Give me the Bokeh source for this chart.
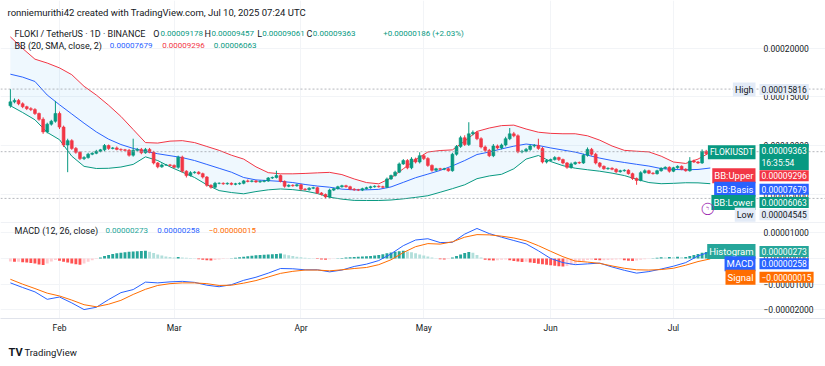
import numpy as np
import pandas as pd
from bokeh.plotting import figure
from bokeh.layouts import column
from bokeh.models import (Range1d, FixedTicker, Label, Span, Grid, ColumnDataSource,
                          DatetimeTickFormatter)
from bokeh.core.properties import value
from bokeh.embed import file_html
from bokeh.resources import INLINE

# ---------------- data (prices in millionths of USDT) ----------------
SCALE = 1e-6
START_DATE = "2025-01-20"
FIRST_OPEN = 141.0
LAST_OPEN = 91.78

CLOSE = [
    145, 146.5, 143, 140, 138, 137, 133, 127, 114, 122,
    125, 133, 119, 100.5, 105, 97, 93, 86.5, 87.5, 91,
    92, 94, 95.5, 100, 97, 97.5, 96, 95.5, 95, 90,
    95, 96, 92.5, 96, 93, 82, 78, 80, 80, 79.5,
    77.5, 88, 73.5, 69, 72, 72.5, 71, 67.5, 59, 57,
    61, 61, 60.5, 61, 60, 60.5, 61, 63.5, 63, 63.5,
    62.5, 63, 63.5, 66.5, 67, 69, 63, 58, 59, 58.5,
    59.5, 55, 54.5, 56, 56.5, 51, 49.5, 47, 54, 55.5,
    57.5, 58.5, 57.5, 55, 54.3, 54, 55.5, 56.5, 57.5, 58,
    57.5, 57, 65.5, 69, 72.5, 81, 84.5, 77, 86, 83,
    89.5, 86.5, 79.5, 74.5, 76, 75.5, 76, 74, 91, 99,
    108, 101, 112, 113.5, 107, 98.5, 95, 89.5, 99.5, 97.5,
    100.5, 107, 112, 110, 93.5, 94, 96, 99.5, 100, 97,
    83, 84.5, 85.5, 87.5, 85.5, 82, 77.5, 81, 82.5, 82,
    90, 96, 91, 82, 78.5, 76, 76.5, 75.5, 73, 74,
    74.5, 71, 66, 64, 72, 74, 71.5, 71, 74, 76.5,
    77.5, 73.5, 77, 78.5, 75.5, 74, 84, 83, 82, 94,
    91.77, 93.63,
]
UP_WICK = [
    13.16, 2, 1.5, 1.5, 1, 1.5, 1.5, 1, 2, 1.5,
    1.5, 13, 2, 1.5, 2, 1.5, 1.5, 1, 1.5, 1.5,
    1, 1.5, 1, 1.5, 1, 1, 1.5, 1, 1, 1.5,
    12, 1.5, 1.5, 1.5, 1.5, 1.5, 1, 1.5, 1, 1,
    1, 1.5, 1.5, 1, 1.5, 1, 1, 1, 1, 1,
    1.5, 1, 1, 1, 1, 1, 1, 1, 1.5, 1,
    1, 1, 1, 1, 1, 5, 1, 1, 1, 1,
    1, 1, 1, 1, 1, 1, 1, 1, 1.5, 1,
    1, 1, 1, 1, 1, 1, 1, 1, 1, 1,
    1, 1, 1.5, 1, 1.5, 1.5, 1.5, 1.5, 2, 1.5,
    3.5, 1.5, 1.5, 1, 1, 1, 1, 1, 1.5, 1.5,
    2, 2.5, 12, 2, 1.5, 1.5, 1.5, 1.5, 2, 1.5,
    1.5, 2, 6, 2, 1.5, 1.5, 1.5, 1.5, 1.5, 7,
    1.5, 1.5, 1, 1.5, 1, 1, 1, 1.5, 1, 1,
    1.5, 2, 1.5, 1.5, 1, 1, 1, 1, 1, 1,
    1, 1, 1, 1, 1.5, 1.5, 1, 1, 1, 1,
    1, 1, 1, 1, 1, 1, 4, 1.5, 1, 2,
    1.5, 0.94,
]
DOWN_WICK = [
    2, 1.5, 1.5, 1.5, 1.5, 1.5, 1.5, 1.5, 2, 1.5,
    1.5, 1.5, 2, 2, 28, 1.5, 1.5, 1.5, 1.5, 1,
    1, 1, 1, 1.5, 1.5, 1, 1, 1, 1, 1.5,
    1.5, 1, 1.5, 1, 1, 1.5, 1.5, 1, 1, 1,
    1, 1.5, 1.5, 2, 1, 1, 1, 1.5, 1.5, 1.5,
    1, 1, 1, 1, 1, 1, 1, 1, 1, 1,
    1, 1, 1, 1, 1, 1, 1, 1.5, 1, 1,
    1, 1.5, 1, 1, 1, 1, 1, 1.55, 1, 1,
    1, 1, 1, 1, 1, 1, 1, 1, 1, 1,
    1, 1, 1, 1, 1, 1, 1, 1.5, 1.5, 1.5,
    1.5, 1.5, 1.5, 1.5, 1, 1, 1, 1, 1, 1.5,
    1.5, 1.5, 1.5, 1.5, 1.5, 1.5, 1.5, 1.5, 1.5, 1.5,
    1.5, 1.5, 1.5, 1.5, 1.5, 1.5, 1, 1.5, 1.5, 1.5,
    1.5, 1.5, 1, 1, 1.5, 1.5, 1.5, 1.5, 1, 1,
    1, 1.5, 1.5, 1.5, 1.5, 1, 1, 1, 1.5, 1,
    1, 1, 1.5, 4.5, 1, 1, 1, 1, 1, 1,
    1, 1.5, 1, 1, 1, 1, 1, 1, 1, 1,
    1.5, 1.17,
]
# Bollinger Bands (20, 2) read every third day
BB_UPPER = [212, 200, 189, 185, 180, 173, 161, 152, 141.5, 130, 116.5, 103, 102.5, 104.5, 105,
            103, 99, 95, 90, 86, 78, 72, 70.8, 70.8, 71.2, 71.8, 72.3, 70, 65.5, 61.8, 60.5,
            66.5, 76, 85.5, 93.3, 94.8, 95.5, 104.5, 114.5, 118, 120.5, 121, 117, 113.7, 112.5,
            112.1, 112.1, 110, 105.5, 99.5, 95, 94.1, 93.4, 89, 83, 81.5, 86, 92.96]
BB_BASIS = [173.5, 170.5, 166, 152, 142, 132.5, 123, 114, 106.5, 101, 97, 94, 91.5, 89.5, 87.5,
            84.5, 80.5, 76.5, 72.5, 67, 64.5, 63.8, 63, 61.8, 59.8, 58.2, 57, 55, 54.3, 54.3,
            54.8, 57.3, 62, 66.8, 70.5, 74.3, 79, 84.5, 90.7, 93.3, 96.5, 99.3, 101.5, 100, 97.5,
            95.3, 93.2, 90, 87, 84.5, 82.5, 80.6, 78.8, 76.2, 75.3, 75, 75.3, 76.79]
BB_LOWER = [141, 134, 126.5, 113.5, 106, 89, 78.5, 76.3, 76.5, 77.8, 80.5, 88.3, 84.5, 78, 72.5,
            67, 59.5, 53.5, 51.5, 50.2, 52.5, 54.3, 55.2, 54.5, 53, 50.5, 46.7, 44.7, 43.4, 43.3,
            43.3, 43.8, 45, 46.5, 48.2, 51.8, 55.5, 59.5, 65.8, 68.6, 70.3, 76, 86, 89.7, 83.5,
            79.2, 76.6, 75, 73.5, 71.5, 69, 65.2, 61.8, 60.6, 61, 61.6, 61.5, 60.63]
# MACD (12, 26) and signal read every third day
MACD_LINE = [-9.5, -11.3, -13, -15.9, -15, -17.3, -19.9, -19, -16, -13.3, -12.1, -9.2, -9.5, -9.1,
             -8.9, -9.3, -10.4, -11, -10.2, -8.5, -7.3, -5.7, -3.9, -4, -4.4, -4.4, -5.2, -4.5,
             -3.1, -2.2, -0.8, 1.8, 5, 7.2, 7.7, 6.2, 6.3, 9.5, 11.7, 9.7, 8.3, 7, 5.7, 3, 0,
             -1.6, -2.4, -2.1, -1.8, -3.3, -4.6, -5.7, -5.1, -4.1, -3, -1.6, 1, 2.58]
SIGNAL_LINE = [-8.1, -10, -11.7, -13.5, -14.6, -16.2, -18, -18.8, -17.8, -16.3, -14, -12, -10.5,
               -9.8, -9.5, -9.5, -9.8, -10.5, -10.4, -9.6, -8.6, -7.2, -5.8, -5, -4.5, -4.5, -4.8,
               -4.4, -3.9, -3.5, -2.4, -0.5, 2.3, 4.6, 5.8, 5.6, 6.5, 8.3, 9.3, 9.2, 8.7, 8, 6.9,
               5, 2.8, 0.7, -1, -1.4, -1.9, -2.9, -3.8, -4.4, -4.5, -4.3, -3.8, -2.6, -1.2, -0.15]
HISTOGRAM = [
    -1.2, -1.3, -1.3, -1.5, -1.6, -1.8, -1.9, -2.3, -2.5, -1.9, -1.2, -0.6,
    -0.9, -1.3, -1.6, -1.9, -2.2, -2.4, -1.9, -1.3, -0.7, -0.2,
    0.4, 1.0, 1.4, 1.8, 2.0, 2.2, 2.4, 2.6, 2.7, 2.8, 2.9, 3.0,
    2.6, 2.1, 1.6, 1.2, 0.8, 0.6, 0.4, 0.6, 0.4, 0.3, 0.2, 0.1,
    -0.3, -0.5, -0.7, -0.8, -0.6, -0.4, -0.2, -0.1, 0.1,
    0.3, 0.5, 0.7, 0.9, 1.1, 1.3, 1.4, 1.5, 1.6, 1.7, 1.8, 1.9,
    1.6, 1.3, 1.0, 0.7, 0.5, 0.3, 0.2, 0.1, -0.2, -0.4, -0.5, -0.3, -0.1, 0.1, 0.2,
    0.4, 0.5, 0.6, 0.7, 0.8, 0.9, 1.0, 1.2, 1.4, 1.7, 2.0, 2.3, 2.6, 2.8, 3.0,
    2.7, 2.4, 2.0, 1.6, 1.2, 0.8, 0.4, 0.1, -0.3, -0.4, -0.2,
    0.4, 1.0, 1.6, 2.1, 2.5, 2.2, 1.4, 0.4,
    -0.5, -0.7, -0.8, -0.7, -0.5, -0.4, -0.7, -1.0, -1.2, -1.4, -1.3, -1.6,
    -1.8, -2.0, -2.2, -2.4, -2.6, -2.8, -3.0, -3.1, -2.9, -2.5, -2.0, -1.5, -1.0,
    -0.6, -0.5, -0.6, -0.7, -0.7, -0.6, -0.5, -0.4, -0.3, -0.7, -0.9, -1.0, -0.8,
    -0.5, -0.3, -0.1, 0.1, 0.3, 0.5, 0.4, 0.6, 0.5, 0.7, 0.5, 0.6,
    1.0, 1.4, 1.8, 2.2, 2.5, 2.73,
]
HIGH_VALUE, LOW_VALUE = 158.16, 45.45
PRICE_TICKS = [50, 100, 150, 200]
MACD_TICKS = [10, 0, -10, -20]
MONTHS = ["2025-02-01", "2025-03-01", "2025-04-01", "2025-05-01", "2025-06-01", "2025-07-01"]

assert len(CLOSE) == len(UP_WICK) == len(DOWN_WICK) == len(HISTOGRAM) == 172
assert len(BB_UPPER) == len(BB_BASIS) == len(BB_LOWER) == len(MACD_LINE) == len(SIGNAL_LINE) == 58

# ---------------- derived series ----------------
dates = pd.date_range(START_DATE, periods=len(CLOSE), freq="D")
close = np.array(CLOSE)
open_ = np.concatenate([[FIRST_OPEN], close[:-1]])
open_[-1] = LAST_OPEN
high = np.maximum(open_, close) + np.array(UP_WICK)
low = np.minimum(open_, close) - np.array(DOWN_WICK)
UP, DOWN = "#089981", "#F23645"
ccol = [UP if c >= o else DOWN for o, c in zip(open_, close)]
candles = ColumnDataSource(dict(
    t=dates, h=high * SCALE, l=low * SCALE,
    top=np.maximum(open_, close) * SCALE, bot=np.minimum(open_, close) * SCALE, col=ccol))

adates = dates[::3]
bb = ColumnDataSource(dict(t=adates, up=np.array(BB_UPPER) * SCALE, mid=np.array(BB_BASIS) * SCALE,
                           lo=np.array(BB_LOWER) * SCALE))
macd = ColumnDataSource(dict(t=adates, m=np.array(MACD_LINE) * SCALE, s=np.array(SIGNAL_LINE) * SCALE))

hist = np.array(HISTOGRAM)
hcol = []
for i, h in enumerate(hist):
    prev = hist[i - 1] if i > 0 else h
    if h >= 0:
        hcol.append("#26A69A" if h >= prev else "#B2DFDB")
    else:
        hcol.append("#FF5252" if h < prev else "#FFCDD2")
hsrc = ColumnDataSource(dict(t=dates, h=hist * SCALE, col=hcol))


def fmt(v):
    s = "%.8f" % abs(v * SCALE)
    return ("\u2212" + s) if v < 0 else s


# ---------------- layout ----------------
W = 825
FONT = "Roboto"
FS = "8.5px"      # price-scale numbers
LS = "9px"        # legend words
VS = "8px"        # legend numbers
INK = "#131722"
GRID = "#f2f4f7"
DAY = 86400000.0
feb1 = pd.Timestamp("2025-02-01").value / 1e6
x_range = Range1d(feb1 - 14.415 * DAY, feb1 + 187.15 * DAY)
month_ms = [pd.Timestamp(m).value / 1e6 for m in MONTHS]
AXIS_X = 763   # pixel column of the price-scale texts


def txt(fig, x, y, text, color=INK, size=FS, align="left", bg=None, style="normal", pad=2):
    lab = Label(x=x, y=y, x_units="screen", y_units="screen", text=text, text_color=color,
                text_font=FONT, text_font_size=size, text_align=align, text_baseline="middle",
                text_font_style=style)
    if bg is not None:
        lab.background_fill_color = bg
        lab.padding = pad
    fig.add_layout(lab)


def scale_texts(fig, ticks):
    fig.text(x=[AXIS_X] * len(ticks), y=[t * SCALE for t in ticks], text=[fmt(t) for t in ticks],
             x_range_name="px", text_font=value(FONT), text_font_size=FS, text_color=INK,
             text_baseline="middle", text_align="left")


# ---- main price pane ----
p = figure(width=W, height=222, output_backend="svg", toolbar_location=None,
           x_range=x_range, y_range=Range1d(20.62 * SCALE, 249.48 * SCALE),
           x_axis_type="datetime", x_axis_location=None, y_axis_location=None,
           min_border=0, outline_line_color=None)
p.extra_x_ranges = {"px": Range1d(0, W)}
p.grid.visible = False
p.add_layout(Grid(dimension=0, ticker=FixedTicker(ticks=month_ms), grid_line_color=GRID))
p.add_layout(Grid(dimension=1, ticker=FixedTicker(ticks=[v * SCALE for v in PRICE_TICKS]), grid_line_color=GRID))

p.varea(x="t", y1="lo", y2="up", source=bb, fill_color="#2196F3", fill_alpha=0.07)
p.line(x="t", y="up", source=bb, line_color="#F23645", line_width=1)
p.line(x="t", y="mid", source=bb, line_color="#2962FF", line_width=1)
p.line(x="t", y="lo", source=bb, line_color="#089981", line_width=1)
p.segment(x0="t", x1="t", y0="l", y1="h", source=candles, line_color="col", line_width=1)
p.vbar(x="t", top="top", bottom="bot", width=0.7 * DAY, source=candles,
       fill_color="col", line_color="col", line_width=0.6)
for lvl in (HIGH_VALUE, LOW_VALUE, CLOSE[-1]):
    p.add_layout(Span(location=lvl * SCALE, dimension="width", line_color="#9598a1",
                      line_dash="2 2", line_width=1, line_alpha=0.7))
scale_texts(p, PRICE_TICKS)

# header texts (x from the left edge, y from the pane bottom, in pixels)
txt(p, 7, 210, "ronniemurithi42 created with TradingView.com, Jul 10, 2025 07:24 UTC", size="9.5px")
txt(p, 14, 189, "FLOKI / TetherUS \u00b7 1D \u00b7 BINANCE", size=LS)
for lx, vx, letter, val in [(152.7, 160, "O", "0.00009178"), (204, 211, "H", "0.00009457"),
                            (256.7, 261.7, "L", "0.00009061"), (306, 312.3, "C", "0.00009363")]:
    txt(p, lx, 189, letter, size=LS)
    txt(p, vx, 189, val, color=UP, size=VS)
txt(p, 382.7, 189, "+0.00000186 (+2.03%)", color=UP, size=VS)
txt(p, 14, 177, "BB (20, SMA, close, 2)", size=LS)
txt(p, 109.3, 177, "0.00007679", color="#2962FF", size=VS)
txt(p, 161.7, 177, "0.00009296", color="#F23645", size=VS)
txt(p, 213.3, 177, "0.00006063", color="#089981", size=VS)

# price-scale labels
LIGHT = "#e3ebf7"
for sy, name, nsize, val, bgc, fc in [
        (133, "High", "9px", "0.00015816", LIGHT, INK),
        (70.2, "FLOKIUSDT", "8.5px", None, "#089981", "white"),
        (46.7, "BB:Upper", "9.5px", "0.00009296", "#F23645", "white"),
        (33.3, "BB:Basis", "9.5px", "0.00007679", "#2962FF", "white"),
        (20, "BB:Lower", "9.5px", "0.00006063", "#089981", "white"),
        (7.7, "Low", "9px", "0.00004545", LIGHT, INK)]:
    txt(p, 755, sy, name, color=fc, size=nsize, align="right", bg=bgc)
    if val is not None:
        txt(p, 759, sy, val, color=fc, bg=bgc)
txt(p, 759, 65.5, "0.00009363\n16:35:54", color="white", bg="#089981")
txt(p, 707, 15, "\u25ef", color="#9c27b0", size="12px", align="center")
txt(p, 707, 15, "\u03df", color="#9c27b0", size="7px", align="center")

# ---- MACD pane ----
q = figure(width=W, height=124, output_backend="svg", toolbar_location=None,
           x_range=x_range, y_range=Range1d(-23.37 * SCALE, 14.02 * SCALE),
           x_axis_type="datetime", y_axis_location=None,
           min_border=0, min_border_bottom=28, outline_line_color=None)
q.extra_x_ranges = {"px": Range1d(0, W)}
q.grid.visible = False
q.add_layout(Grid(dimension=0, ticker=FixedTicker(ticks=month_ms), grid_line_color=GRID))
q.add_layout(Grid(dimension=1, ticker=FixedTicker(ticks=[v * SCALE for v in MACD_TICKS]), grid_line_color=GRID))
xa = q.xaxis[0]
xa.ticker = FixedTicker(ticks=month_ms)
xa.formatter = DatetimeTickFormatter(days="%b", months="%b", years="%b")
xa.major_label_standoff = 4
xa.major_tick_line_color = None
xa.minor_tick_line_color = None
xa.major_tick_out = 0
xa.major_tick_in = 0
xa.axis_line_color = "#e0e3eb"
xa.major_label_text_font = FONT
xa.major_label_text_font_size = FS
xa.major_label_text_color = INK
q.add_layout(Span(location=14.02 * SCALE, dimension="width", line_color="#e0e3eb", line_width=1))

q.vbar(x="t", top="h", bottom=0, width=0.7 * DAY, source=hsrc, fill_color="col", line_color=None)
q.line(x="t", y="m", source=macd, line_color="#2962FF", line_width=1)
q.line(x="t", y="s", source=macd, line_color="#FF6D00", line_width=1)
scale_texts(q, MACD_TICKS)

txt(q, 14, 88, "MACD (12, 26, close)", size=LS)
txt(q, 105, 88, "0.00000273", color="#26A69A", size=VS)
txt(q, 156.7, 88, "0.00000258", color="#2962FF", size=VS)
txt(q, 208.3, 88, "\u22120.00000015", color="#FF6D00", size=VS)
for sy, name, val, bgc in [(67, "Histogram", "0.00000273", "#26A69A"),
                           (54.7, "MACD", "0.00000258", "#2962FF"),
                           (41.3, "Signal", "\u22120.00000015", "#FF6D00")]:
    txt(q, 755, sy, name, color="white", size="9.5px", align="right", bg=bgc)
    txt(q, 759, sy, val, color="white", bg=bgc)

# ---- footer ----
f = figure(width=W, height=20, output_backend="svg", toolbar_location=None,
           x_axis_location=None, y_axis_location=None, min_border=0, outline_line_color=None,
           x_range=Range1d(0, 1), y_range=Range1d(0, 1))
f.grid.visible = False
txt(f, 8, 14, "TV", size="11px", style="bold")
txt(f, 24, 14, "TradingView", size="9.5px")

layout = column(p, q, f)
open("out.html", "w").write(file_html(layout, INLINE, title="FLOKI / TetherUS"))
